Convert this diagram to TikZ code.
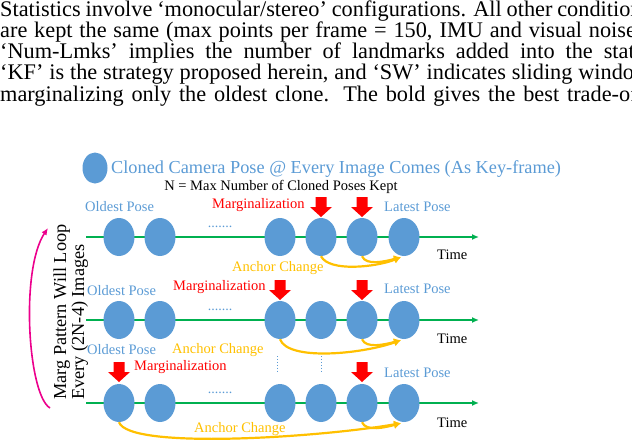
\documentclass[tikz,border=0pt]{standalone}
\usepackage{fontspec}
\setmainfont{Liberation Serif}
\usetikzlibrary{arrows.meta,shapes.geometric,calc}
\definecolor{poseblue}{RGB}{91,155,213}
\definecolor{lgreen}{RGB}{0,176,80}
\definecolor{anch}{RGB}{255,192,0}
\begin{document}
\begin{tikzpicture}[x=1pt,y=-1pt,
  pose/.style={ellipse,fill=poseblue,minimum width=31pt,minimum height=38pt,inner sep=0pt},
  lbl/.style={font=\fontsize{14.5}{15}\selectfont,inner sep=0pt,anchor=base west},
  big lbl/.style={font=\fontsize{18.3}{19}\selectfont,inner sep=0pt,anchor=base west},
  blue lbl/.style={lbl,text=poseblue},
  red lbl/.style={lbl,text=red},
  or lbl/.style={lbl,text=anch},
  tl/.style={line width=1.6pt,color=lgreen,-{Latex[length=7pt,width=6pt]}},
  margarrow/.pic={\fill[red] (-5.5,-10) -- (5.5,-10) -- (5.5,0) -- (11,0) -- (0,10) -- (-11,0) -- (-5.5,0) -- cycle;},
  anc/.style={draw=anch,line width=2.2pt,-{Latex[length=7pt,width=8pt]}},
  para/.style={font=\fontsize{22.3}{21}\selectfont,inner sep=0pt,anchor=base west}]
\useasboundingbox (0,0) rectangle (632,444);
\begin{scope}
\clip (0,0) rectangle (632,444);
\node[para] (p1) at (0,17) {\makebox[650pt][s]{Statistics involve ‘monocular/stereo’ configurations. All other conditions}};
\node[para] (p2) at (0,38) {\makebox[650pt][s]{are kept the same (max points per frame = 150, IMU and visual noises,}};
\node[para] (p3) at (0,59) {\makebox[650pt][s]{‘Num-Lmks’ implies the number of landmarks added into the state.}};
\node[para] (p4) at (0,80) {\makebox[650pt][s]{‘KF’ is the strategy proposed herein, and ‘SW’ indicates sliding window}};
\node[para] (p5) at (0,101) {\makebox[650pt][s]{marginalizing only the oldest clone. The bold gives the best trade-off.}};
\end{scope}
% legend
\node[ellipse,fill=poseblue,minimum width=25pt,minimum height=31pt,inner sep=0pt] (leg) at (95,168) {};
\node[big lbl,text=poseblue] (legt) at (111,173) {Cloned Camera Pose @ Every Image Comes (As Key-frame)};
\node[lbl,anchor=base] (nmax) at (281,190) {N = Max Number of Cloned Poses Kept};
% rows
\foreach \r/\y in {a/237,b/320,c/403}{
  \coordinate (\r s) at (86,\y);
  \coordinate (\r e) at (479,\y);
  \draw[tl] (\r s) -- (\r e);
  \foreach \i/\x in {1/119,2/160,3/280,4/321,5/362,6/404}{
    \node[pose] (\r\i) at (\x,\y) {};
  }
  \node[text=poseblue,font=\fontsize{14}{14}\selectfont,inner sep=0pt] (\r d) at (220,\y-10) {.......};
}
\node[lbl] (at) at (437,259) {Time};
\node[lbl] (bt) at (437,343) {Time};
\node[lbl] (ct) at (437,427) {Time};
% row a
\node[blue lbl] (aold) at (85,211) {Oldest Pose};
\node[red lbl] (amarg) at (212,208) {Marginalization};
\node[blue lbl] (alat) at (384,211) {Latest Pose};
\pic at (321,207) {margarrow};
\pic at (362,207) {margarrow};
\draw[anc] (a4.south) .. controls +(8,16) and +(-25,10) .. ($(a6.south)+(-3,1)$);
\draw[anc] (a5.south) .. controls +(4,10) and +(-15,4) .. ($(a6.south)+(-3,1)$);
\node[or lbl] (aanc) at (232,271) {Anchor Change};
% row b
\node[blue lbl] (bold) at (87,295) {Oldest Pose};
\node[red lbl] (bmarg) at (173,290) {Marginalization};
\node[blue lbl] (blat) at (384,293) {Latest Pose};
\pic at (280,290) {margarrow};
\pic at (362,290) {margarrow};
\draw[anc] (b3.south) .. controls +(8,22) and +(-40,14) .. ($(b6.south)+(-3,1)$);
\draw[anc] (b5.south) .. controls +(4,10) and +(-15,4) .. ($(b6.south)+(-3,1)$);
\node[or lbl] (banc) at (172,353) {Anchor Change};
% row c
\node[blue lbl] (cold) at (87,354) {Oldest Pose};
\node[red lbl] (cmarg) at (134,370) {Marginalization};
\node[blue lbl] (clat) at (384,377) {Latest Pose};
\pic at (119,372) {margarrow};
\pic at (362,372) {margarrow};
\draw[anc] (c1.south) .. controls +(10,28) and +(-80,14) .. ($(c6.south)+(-3,1)$);
\draw[anc] (c5.south) .. controls +(4,10) and +(-15,4) .. ($(c6.south)+(-3,1)$);
\node[or lbl] (canc) at (194,432) {Anchor Change};
\draw[poseblue,dotted,line width=0.9pt] (277,356) -- (277,372) (321,356) -- (321,372);
% left
\node[big lbl,rotate=90] (lp1) at (66,400) {Marg Pattern Will Loop};
\node[big lbl,rotate=90] (lp2) at (84,400) {Every (2N-4) Images};
\coordinate (ls) at (50,408);
\coordinate (le) at (48,228);
\draw[magenta,line width=1.6pt,-{Latex[length=7pt,width=6pt]}] (ls) .. controls (28,395) and (20,270) .. (le);
\end{tikzpicture}
\end{document}
